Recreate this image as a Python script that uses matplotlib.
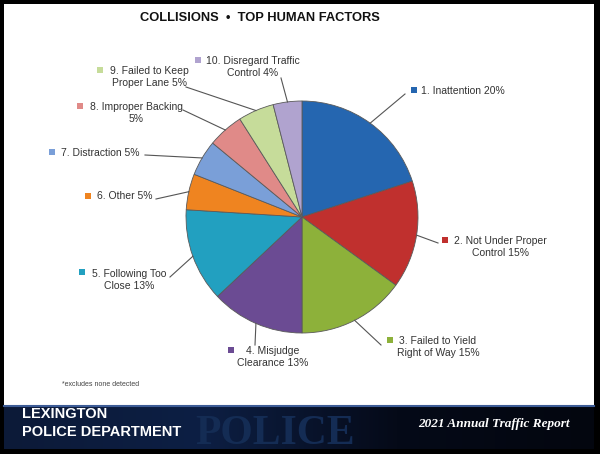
import matplotlib
matplotlib.use("Agg")
import matplotlib.pyplot as plt
from matplotlib.patches import Rectangle
from matplotlib.colors import LinearSegmentedColormap
import numpy as np

W, H = 600, 454

# data
factors = ["1. Inattention 20%",
           "2. Not Under Proper\nControl 15%",
           "3. Failed to Yield\nRight of Way 15%",
           "4. Misjudge\nClearance 13%",
           "5. Following Too\nClose 13%",
           "6. Other 5%",
           "7. Distraction 5%",
           "8. Improper Backing\n5%",
           "9. Failed to Keep\nProper Lane 5%",
           "10. Disregard Traffic\nControl 4%"]
shares = [20, 15, 15, 13, 13, 5, 5, 5, 5, 4]
colors = ["#2566b0", "#c0302e", "#8db13a", "#6b4b93", "#22a0c0",
          "#ef8420", "#7a9fd8", "#e08a88", "#c6dc9a", "#b0a3cf"]

# layout (pixel coords from top-left): text centre, marker, leader end
text_xy = [(463, 91), (500, 247), (438, 347), (273, 357), (129, 280),
           (125, 196), (100, 153), (136, 113), (149, 77), (253, 67)]
marker_xy = [(414, 90), (445, 240), (390, 340), (231, 350), (82, 272),
             (88, 196), (52, 152), (80, 106), (100, 70), (198, 60)]
leader_end = [(405, 94), (438, 243), (381, 345), (255, 345), (170, 277),
              (156, 199), (145, 155), (183, 110), (186, 87), (281, 78)]

cx, cy, r = 302, 217, 116

fig = plt.figure(figsize=(6, 4.54), dpi=100)
fig.patch.set_facecolor("black")
ax = fig.add_axes([0, 0, 1, 1])
ax.axis("off")

def Y(py):
    return H - py

# white panel
ax.add_patch(Rectangle((4, Y(406)), 590, 402, facecolor="white", edgecolor="none", zorder=0))

wedges, _ = ax.pie(shares, colors=colors, startangle=90, counterclock=False,
                   center=(cx, Y(cy)), radius=r,
                   wedgeprops=dict(edgecolor="#5a5a5a", linewidth=0.6))

for w, lab, txy, mxy, le, col in zip(wedges, factors, text_xy, marker_xy, leader_end, colors):
    ang = np.deg2rad((w.theta1 + w.theta2) / 2)
    sx = cx + r * np.cos(ang)
    sy = Y(cy) + r * np.sin(ang)
    ax.plot([sx, le[0]], [sy, Y(le[1])], color="#555555", lw=0.8, zorder=3)
    ax.text(txy[0], Y(txy[1]), lab, ha="center", va="center", fontsize=7.5,
            family="Liberation Sans", color="#333333", linespacing=1.15)
    ax.scatter([mxy[0]], [Y(mxy[1])], marker="s", s=14, color=col,
               edgecolors="none", zorder=4)

ax.text(260, Y(18), "COLLISIONS  •  TOP HUMAN FACTORS", ha="center", va="center",
        fontsize=9.3, fontweight="bold", family="Liberation Sans",
        color="#111111")

ax.text(62, Y(385), "*excludes none detected", ha="left", va="center",
        fontsize=5, family="Liberation Sans", color="#444444")

# banner with left-to-right gradient
banner = Rectangle((4, Y(449)), 590, 43, facecolor="none", edgecolor="none", zorder=1)
ax.add_patch(banner)
cmap = LinearSegmentedColormap.from_list("band", ["#0c1a38", "#0d1f44", "#050a18", "#03060f"])
grad = np.linspace(0, 1, 256).reshape(1, -1)
img = ax.imshow(grad, cmap=cmap, extent=(4, 594, Y(449), Y(406)), aspect="auto", zorder=1)
img.set_clip_path(banner)
ax.plot([4, 594], [Y(406), Y(406)], color="#3d5c96", lw=1.5, zorder=2)
wm = ax.text(275, Y(434), "POLICE", ha="center", va="center", fontsize=30,
             fontweight="bold", family="Liberation Serif", color="#142c54", zorder=2)
wm.set_clip_path(banner)
ax.text(22, Y(423), "LEXINGTON\nPOLICE DEPARTMENT", ha="left", va="center",
        fontsize=10.5, fontweight="bold", family="Liberation Sans", color="white",
        linespacing=1.35, zorder=3)
ax.text(494, Y(424), "2021 Annual Traffic Report", ha="center", va="center",
        fontsize=9.5, fontweight="bold", style="italic", family="Liberation Serif",
        color="white", zorder=3)

ax.set_xlim(0, W)
ax.set_ylim(0, H)
ax.set_aspect("equal")

fig.savefig("out.png", dpi=100, facecolor=fig.get_facecolor())
